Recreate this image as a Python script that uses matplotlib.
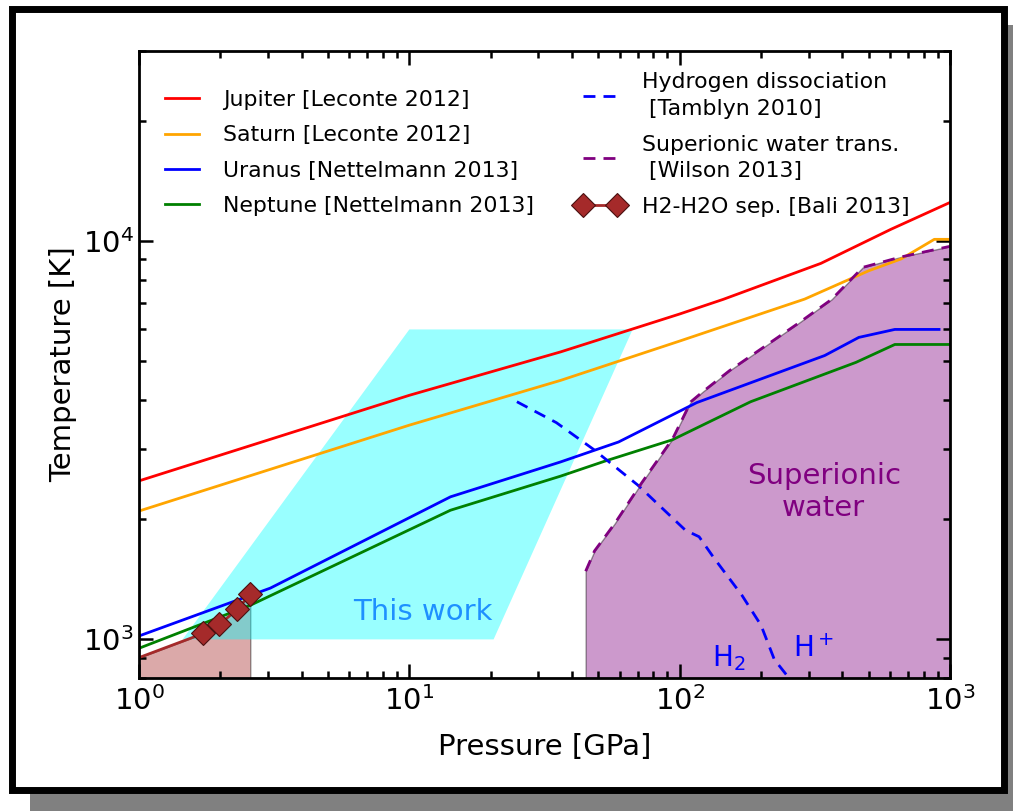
import numpy as np
import matplotlib.pyplot as plt
from matplotlib.patches import Rectangle
from matplotlib.ticker import NullFormatter

# planetary adiabats (pressure in GPa, temperature in K)
jup_p = [1, 10, 36.3, 100, 145, 333, 604, 1000]
jup_t = [2500, 4100, 5270, 6560, 7140, 8790, 10700, 12500]

sat_p = [1, 10, 36.3, 100, 290, 500, 660, 875, 1000]
sat_t = [2100, 3450, 4470, 5610, 7150, 8420, 9020, 10100, 10100]

ura_p = [1, 3.06, 14.2, 36.3, 59.4, 115.6, 344, 460, 625, 911]
ura_t = [1020, 1345, 2280, 2790, 3130, 3930, 5160, 5730, 6000, 6000]

nep_p = [1, 2.58, 14.2, 36.3, 52.7, 94, 183, 449, 625, 1000]
nep_t = [950, 1218, 2110, 2570, 2800, 3170, 3950, 4960, 5500, 5500]

# hydrogen dissociation curve
hdis_p = [25, 35, 48, 70, 105, 118, 134, 170, 200, 224, 250]
hdis_t = [3950, 3500, 3000, 2440, 1880, 1810, 1600, 1290, 1085, 890, 810]

# superionic water boundary
sup_p = [44.9, 48.4, 57.4, 72.3, 94.2, 110, 122, 153, 274, 365, 476, 658, 1000]
sup_t = [1483, 1667, 1950, 2470, 3190, 3950, 4190, 4730, 6210, 7140, 8590, 9120, 9700]

# H2-H2O separation
bali_p = [1, 1.73, 1.98, 2.31, 2.58]
bali_t = [900, 1035, 1090, 1190, 1300]

# region covered by this work
work_p = [1.45, 20.5, 67, 10]
work_t = [1000, 1000, 6000, 6000]

W, H = 1013, 811
fig = plt.figure(figsize=(W / 100, H / 100), dpi=100)

# framed picture with a drop shadow
fig.patches.append(Rectangle((30 / W, -0.1), 1.2, 1 - 25 / H + 0.1, transform=fig.transFigure,
                             facecolor='#808080', edgecolor='none', zorder=-3))
fig.patches.append(Rectangle((12 / W, 1 - 789.5 / H), (1003.5 - 12) / W, (789.5 - 8.5) / H,
                             transform=fig.transFigure, facecolor='white', edgecolor='black',
                             lw=5, zorder=-2))

ax = fig.add_axes([139 / W, 1 - 678 / H, (950 - 139) / W, (678 - 51) / H])
ax.set_xscale('log')
ax.set_yscale('log')
ax.set_xlim(1, 1000)
ax.set_ylim(800, 30000)

low = 500
ax.fill_between(bali_p, bali_t, low, color='brown', alpha=0.4, edgecolor='k', lw=1)
ax.fill(work_p, work_t, color='cyan', alpha=0.4, lw=0)
ax.fill_between(sup_p, sup_t, low, color='purple', alpha=0.4, edgecolor='k', lw=1)

dash = (0, (4.3, 2.9))
l1, = ax.plot(jup_p, jup_t, color='red', lw=2, label='Jupiter [Leconte 2012]')
l2, = ax.plot(sat_p, sat_t, color='orange', lw=2, label='Saturn [Leconte 2012]')
l3, = ax.plot(ura_p, ura_t, color='blue', lw=2, label='Uranus [Nettelmann 2013]')
l4, = ax.plot(nep_p, nep_t, color='green', lw=2, label='Neptune [Nettelmann 2013]')
l5, = ax.plot(hdis_p, hdis_t, color='blue', lw=2, linestyle=dash,
              label='Hydrogen dissociation\n [Tamblyn 2010]')
l6, = ax.plot(sup_p, sup_t, color='purple', lw=2, linestyle=dash,
              label='Superionic water trans.\n [Wilson 2013]')
l7, = ax.plot(bali_p, bali_t, color='brown', lw=2, marker='D', markersize=12,
              markeredgecolor='#4a1010', markeredgewidth=0.8, markevery=[1, 2, 3, 4],
              label='H2-H2O sep. [Bali 2013]')

ax.text(11.2, 1170, 'This work', color='dodgerblue', fontsize=21, ha='center', va='center')
ax.text(341, 2345, 'Superionic\nwater', color='purple', fontsize=21, ha='center', va='center')
ax.text(152, 898, 'H$_2$', color='blue', fontsize=20, ha='center', va='center')
ax.text(313, 944, 'H$^+$', color='blue', fontsize=20, ha='center', va='center')

leg1 = ax.legend(handles=[l1, l2, l3, l4], loc='upper left', bbox_to_anchor=(0.032, 0.938),
                 frameon=False, fontsize=15.8, borderpad=0, borderaxespad=0,
                 handlelength=1.55, handletextpad=1.1, labelspacing=0.7)
ax.add_artist(leg1)
leg2 = ax.legend(handles=[l5, l6, l7], loc='upper left', bbox_to_anchor=(0.539, 0.966),
                 frameon=False, fontsize=15.8, borderpad=0, borderaxespad=0,
                 handlelength=2.17, handletextpad=0.85, numpoints=2, labelspacing=0.72)
for t in leg2.get_texts():
    t.set_linespacing(1.4)

ax.set_xlabel('Pressure [GPa]', fontsize=21, labelpad=12)
ax.set_ylabel('Temperature [K]', fontsize=21)
ax.tick_params(which='both', direction='in', top=True, right=True, width=1.8, labelsize=21)
ax.tick_params(which='major', length=10)
ax.tick_params(which='minor', length=5)
ax.tick_params(axis='x', pad=6)
ax.yaxis.set_minor_formatter(NullFormatter())
ax.xaxis.set_minor_formatter(NullFormatter())
for s in ax.spines.values():
    s.set_linewidth(2)

fig.savefig('out.png', dpi=100)
